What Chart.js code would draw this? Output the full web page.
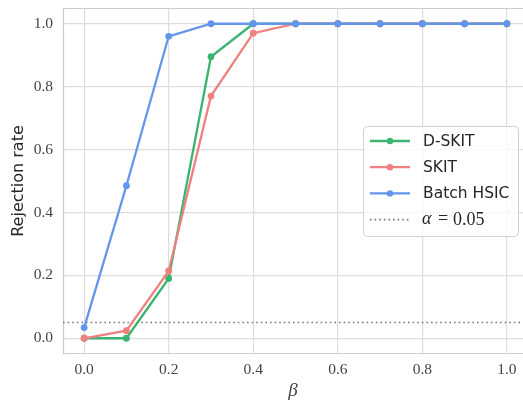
<!DOCTYPE html>
<html>
<head>
<meta charset="utf-8">
<script src="https://cdn.jsdelivr.net/npm/chart.js@4/dist/chart.umd.min.js"></script>
<style>
  html, body { margin: 0; padding: 0; background: #fff; }
  #wrap { width: 523px; height: 402px; }
</style>
</head>
<body>
<div id="wrap"><canvas id="myChart" width="523" height="402"></canvas></div>
<script>
// donnees
const betas = [0.0, 0.1, 0.2, 0.3, 0.4, 0.5, 0.6, 0.7, 0.8, 0.9, 1.0];
const dskit = [0.0, 0.0, 0.19, 0.895, 1.0, 1.0, 1.0, 1.0, 1.0, 1.0, 1.0];
const skit = [0.0, 0.024, 0.214, 0.77, 0.97, 1.0, 1.0, 1.0, 1.0, 1.0, 1.0];
const batchHsic = [0.034, 0.485, 0.96, 1.0, 1.0, 1.0, 1.0, 1.0, 1.0, 1.0, 1.0];
const alpha = 0.05;
const xTicks = [0.0, 0.2, 0.4, 0.6, 0.8, 1.0];
const yTicks = [0.0, 0.2, 0.4, 0.6, 0.8, 1.0];
const xMin = -0.05, xMax = 1.038;
const yMin = -0.05, yMax = 1.05;

const green = '#3cb371';
const red = '#f08080';
const blue = '#6495ed';
const gridColor = '#dddddd';
const tickColor = '#444444';

function pts(ys) {
    return betas.map((b, i) => ({ x: b, y: ys[i] }));
}

function serie(label, ys, color, order) {
    return {
        label: label,
        data: pts(ys),
        borderColor: color,
        backgroundColor: color,
        borderWidth: 2.3,
        pointRadius: 3.4,
        pointBorderWidth: 0,
        pointBackgroundColor: color,
        tension: 0,
        order: order
    };
}

// cadre (haut, gauche, bas) + legende dessinee a la main
const framePlugin = {
    id: 'frame',
    beforeDatasetsDraw(chart) {
        const a = chart.chartArea;
        const ctx = chart.ctx;
        ctx.save();
        ctx.strokeStyle = '#cccccc';
        ctx.lineWidth = 1.2;
        ctx.beginPath();
        ctx.moveTo(chart.width, a.top + 0.5);
        ctx.lineTo(a.left + 0.5, a.top + 0.5);
        ctx.lineTo(a.left + 0.5, a.bottom - 0.5);
        ctx.lineTo(chart.width, a.bottom - 0.5);
        ctx.stroke();
        ctx.restore();
    },
    afterDraw(chart) {
        const a = chart.chartArea;
        const ctx = chart.ctx;
        const w = 155, h = 110;
        const x0 = a.right - 5 - w;
        const y0 = (a.top + a.bottom) / 2 - h / 2;
        ctx.save();
        ctx.fillStyle = 'rgba(255,255,255,0.8)';
        ctx.strokeStyle = '#d0d0d0';
        ctx.lineWidth = 1;
        ctx.beginPath();
        ctx.roundRect(x0 + 0.5, y0 + 0.5, w, h, 4);
        ctx.fill();
        ctx.stroke();

        const items = [
            { label: 'D-SKIT', color: green },
            { label: 'SKIT', color: red },
            { label: 'Batch HSIC', color: blue },
            { label: 'alpha', color: '#777777', dotted: true }
        ];
        items.forEach((it, i) => {
            const cy = y0 + 15 + i * 26.2;
            ctx.strokeStyle = it.color;
            if (it.dotted) {
                ctx.lineWidth = 1.6;
                ctx.setLineDash([1.6, 3]);
            } else {
                ctx.lineWidth = 2.3;
                ctx.setLineDash([]);
            }
            ctx.beginPath();
            ctx.moveTo(x0 + 7, cy);
            ctx.lineTo(x0 + 47, cy);
            ctx.stroke();
            ctx.setLineDash([]);
            if (!it.dotted) {
                ctx.fillStyle = it.color;
                ctx.beginPath();
                ctx.arc(x0 + 27, cy, 3.2, 0, Math.PI * 2);
                ctx.fill();
            }
            ctx.fillStyle = '#262626';
            ctx.textBaseline = 'middle';
            ctx.textAlign = 'left';
            if (it.dotted) {
                ctx.font = 'italic 18px "Liberation Serif"';
                ctx.fillText('α', x0 + 59, cy);
                ctx.font = '18px "Liberation Serif"';
                ctx.fillText('=', x0 + 75, cy);
                ctx.fillText('0.05', x0 + 90, cy + 1);
            } else {
                ctx.font = '15.5px "DejaVu Sans"';
                ctx.fillText(it.label, x0 + 60, cy + 1);
            }
        });
        ctx.restore();
    }
};

const ctx = document.getElementById('myChart').getContext('2d');
const myChart = new Chart(ctx, {
    type: 'line',
    data: {
        datasets: [
            serie('D-SKIT', dskit, green, 3),
            serie('SKIT', skit, red, 2),
            serie('Batch HSIC', batchHsic, blue, 1),
            {
                label: 'alpha',
                data: [{ x: xMin, y: alpha }, { x: xMax, y: alpha }],
                borderColor: '#777777',
                borderWidth: 1.6,
                borderDash: [1.6, 3],
                pointRadius: 0,
                order: 4
            }
        ]
    },
    options: {
        responsive: false,
        animation: false,
        layout: { autoPadding: false, padding: { top: 8, right: 0, left: 0, bottom: 0 } },
        plugins: {
            legend: { display: false },
            tooltip: { enabled: false }
        },
        scales: {
            x: {
                type: 'linear',
                min: xMin,
                max: xMax,
                afterBuildTicks: (scale) => { scale.ticks = xTicks.map(v => ({ value: v })); },
                afterFit: (scale) => {
                    scale.height = 48;
                    scale.paddingLeft = 0;
                    scale.paddingRight = 0;
                },
                grid: { color: gridColor, lineWidth: 1.2, drawTicks: false },
                border: { display: false },
                ticks: {
                    padding: 7,
                    color: tickColor,
                    font: { family: 'Liberation Serif', size: 15.5 },
                    callback: (v) => v.toFixed(1),
                    maxRotation: 0
                },
                title: {
                    display: true,
                    text: 'β',
                    color: tickColor,
                    font: { family: 'Liberation Serif', style: 'italic', size: 19 },
                    padding: { top: 0, bottom: 0 }
                }
            },
            y: {
                type: 'linear',
                min: yMin,
                max: yMax,
                afterBuildTicks: (scale) => { scale.ticks = yTicks.map(v => ({ value: v })); },
                afterFit: (scale) => {
                    scale.width = 63;
                    scale.paddingTop = 0;
                    scale.paddingBottom = 0;
                },
                grid: { color: gridColor, lineWidth: 1.2, drawTicks: false },
                border: { display: false },
                ticks: {
                    padding: 10,
                    color: tickColor,
                    font: { family: 'Liberation Serif', size: 15.5 },
                    callback: (v) => v.toFixed(1)
                },
                title: {
                    display: true,
                    text: 'Rejection rate',
                    color: '#262626',
                    font: { family: 'DejaVu Sans', size: 16 },
                    padding: { top: 9, bottom: 0 }
                }
            }
        }
    },
    plugins: [framePlugin]
});
</script>
</body>
</html>
